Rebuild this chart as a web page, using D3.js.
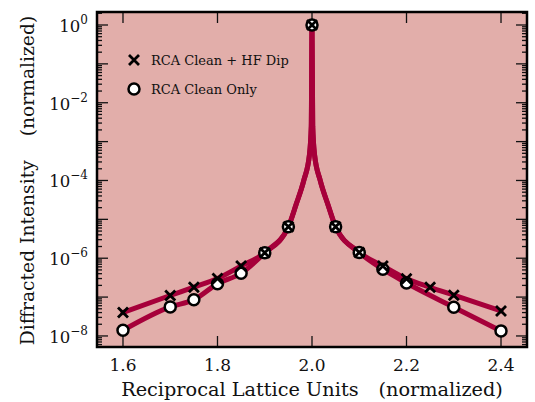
<!DOCTYPE html>
<html>
<head>
<meta charset="utf-8">
<script src="https://cdn.jsdelivr.net/npm/d3@7/dist/d3.min.js"></script>
<style>
  html, body { margin: 0; padding: 0; background: #ffffff; }
  svg { display: block; }
  text { font-family: "DejaVu Serif", "Liberation Serif", serif; fill: #111; }
</style>
</head>
<body>
<svg id="chart" width="535" height="402"></svg>
<script>
// ---- data ----
const xHF    = [1.6, 1.7, 1.75, 1.8, 1.85, 1.9, 1.95, 2.0, 2.05, 2.1, 2.15, 2.2, 2.25, 2.3, 2.4];
const yHF    = [4.0e-8, 1.1e-7, 1.8e-7, 3.0e-7, 6.3e-7, 1.38e-6, 6.46e-6, 1, 6.46e-6, 1.41e-6, 6.3e-7, 2.95e-7, 1.78e-7, 1.12e-7, 4.4e-8];
const xClean = [1.6, 1.7, 1.75, 1.8, 1.85, 1.9, 1.95, 2.0, 2.05, 2.1, 2.15, 2.2, 2.3, 2.4];
const yClean = [1.4e-8, 5.6e-8, 8.5e-8, 2.2e-7, 4.1e-7, 1.38e-6, 6.46e-6, 1, 6.46e-6, 1.41e-6, 5.2e-7, 2.3e-7, 5.5e-8, 1.35e-8];
// fitted-curve points around the peak (shared by both curves)
const peakX = [1.966, 1.9828, 1.9946, 1.9985, 2.0, 2.0015, 2.0054, 2.0172, 2.034];
const peakY = [2.34e-5, 1.02e-4, 4.57e-4, 2.5e-3, 1, 2.5e-3, 4.57e-4, 1.02e-4, 2.34e-5];
const xTicks = [1.6, 1.8, 2.0, 2.2, 2.4];
const xTickLabels = ["1.6", "1.8", "2.0", "2.2", "2.4"];
const yLabelExps = [0, -2, -4, -6, -8];
const seriesNames = ["RCA Clean + HF Dip", "RCA Clean Only"];

// ---- layout ----
const L = 97, T = 12, R = 527, B = 347;
const bg = "#e2aeaa", lineCol = "#a6003a";

const svg = d3.select("#chart");
const x = d3.scaleLinear().domain([1.545, 2.455]).range([L, R]);
const y = d3.scaleLog().domain([5.2e-9, 2.16]).range([B, T]);

svg.append("rect").attr("x", L).attr("y", T).attr("width", R - L).attr("height", B - T).attr("fill", bg);

svg.append("clipPath").attr("id", "clip").append("rect")
  .attr("x", L).attr("y", T).attr("width", R - L).attr("height", B - T);

// ticks (inward)
const tg = svg.append("g").attr("stroke", "#111").attr("stroke-width", 1.3);
xTicks.forEach(v => {
  tg.append("line").attr("x1", x(v)).attr("x2", x(v)).attr("y1", B).attr("y2", B - 11);
  tg.append("line").attr("x1", x(v)).attr("x2", x(v)).attr("y1", T).attr("y2", T + 11);
});
const [ymin, ymax] = y.domain();
for (let e = -9; e <= 0; e++) {
  for (let k = 1; k <= 9; k++) {
    const v = k * Math.pow(10, e);
    if (v < ymin || v > ymax) continue;
    const len = k === 1 ? 11 : 5;
    const yy = y(v);
    tg.append("line").attr("x1", L).attr("x2", L + len).attr("y1", yy).attr("y2", yy);
    tg.append("line").attr("x1", R).attr("x2", R - len).attr("y1", yy).attr("y2", yy);
  }
}

// curves
function curvePts(xs, ys) {
  const pts = [];
  xs.forEach((v, i) => { if (v !== 2.0) pts.push([v, ys[i]]); });
  peakX.forEach((v, i) => pts.push([v, peakY[i]]));
  pts.sort((a, b) => a[0] - b[0]);
  return pts;
}
const line = d3.line().x(d => x(d[0])).y(d => y(d[1])).curve(d3.curveMonotoneX);
const cg = svg.append("g").attr("clip-path", "url(#clip)");
[[xHF, yHF], [xClean, yClean]].forEach(([xs, ys]) => {
  cg.append("path").attr("d", line(curvePts(xs, ys)))
    .attr("fill", "none").attr("stroke", lineCol).attr("stroke-width", 5)
    .attr("stroke-linejoin", "round").attr("stroke-linecap", "round");
});

// markers: circles then crosses
const mg = svg.append("g");
xClean.forEach((v, i) => {
  mg.append("circle").attr("cx", x(v)).attr("cy", y(yClean[i])).attr("r", 5.5)
    .attr("fill", "#fff").attr("stroke", "#000").attr("stroke-width", 2.5);
});
const cs = 5;
function cross(g, cx, cy) {
  g.append("path").attr("d", `M${cx - cs},${cy - cs}L${cx + cs},${cy + cs}M${cx - cs},${cy + cs}L${cx + cs},${cy - cs}`)
    .attr("stroke", "#000").attr("stroke-width", 2.8).attr("fill", "none");
}
xHF.forEach((v, i) => cross(mg, x(v), y(yHF[i])));

// frame
svg.append("rect").attr("x", L).attr("y", T).attr("width", R - L).attr("height", B - T)
  .attr("fill", "none").attr("stroke", "#000").attr("stroke-width", 2.5);

// x tick labels
xTicks.forEach((v, i) => {
  svg.append("text").attr("x", x(v)).attr("y", 371).attr("text-anchor", "middle")
    .attr("font-size", 17).text(xTickLabels[i]);
});
// y tick labels
yLabelExps.forEach(e => {
  const t = svg.append("text").attr("x", 88).attr("y", y(Math.pow(10, e)) + 7)
    .attr("text-anchor", "end").attr("font-size", 16.5);
  t.append("tspan").text("10");
  t.append("tspan").attr("dy", -8).attr("font-size", 12).text(e === 0 ? "0" : "\u2212" + Math.abs(e));
});

// axis titles
const xl = svg.append("text").attr("x", (L + R) / 2).attr("y", 396).attr("text-anchor", "middle").attr("font-size", 19.3);
xl.append("tspan").text("Reciprocal Lattice Units");
xl.append("tspan").attr("dx", 20).text("(normalized)");
const yl = svg.append("text").attr("transform", `translate(34,${(T + B) / 2 + 1}) rotate(-90)`)
  .attr("text-anchor", "middle").attr("font-size", 18.7);
yl.append("tspan").text("Diffracted Intensity");
yl.append("tspan").attr("dx", 24).text("(normalized)");

// legend
const lg = svg.append("g");
cross(lg, 134, 60);
lg.append("circle").attr("cx", 134).attr("cy", 89).attr("r", 5.5)
  .attr("fill", "#fff").attr("stroke", "#000").attr("stroke-width", 2.5);
lg.append("text").attr("x", 151).attr("y", 65).attr("font-size", 13).text(seriesNames[0]);
lg.append("text").attr("x", 151).attr("y", 94).attr("font-size", 13).text(seriesNames[1]);
</script>
</body>
</html>
